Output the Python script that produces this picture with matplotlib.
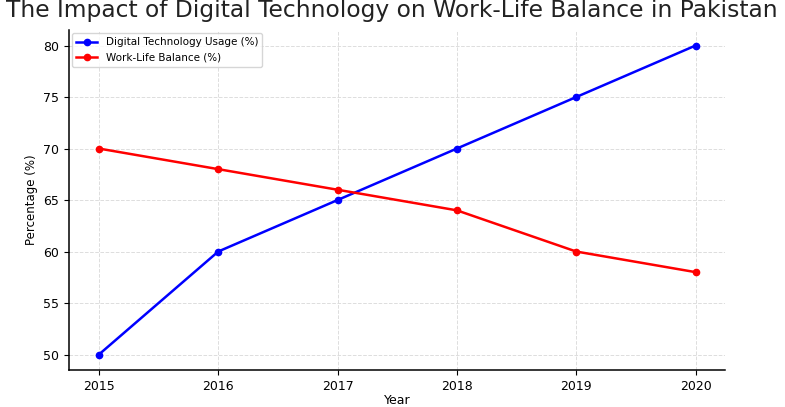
import matplotlib.pyplot as plt

years = [2015, 2016, 2017, 2018, 2019, 2020]
tech_usage = [50, 60, 65, 70, 75, 80]
work_life = [70, 68, 66, 64, 60, 58]

fig = plt.figure(figsize=(7.85, 4.07), dpi=100)
ax = fig.add_axes([0.088, 0.091, 0.836, 0.835])

ax.plot(years, tech_usage, color='blue', marker='o', markersize=4.5, linewidth=1.8,
        label='Digital Technology Usage (%)')
ax.plot(years, work_life, color='red', marker='o', markersize=4.5, linewidth=1.8,
        label='Work-Life Balance (%)')

ax.set_xticks(years)
ax.tick_params(labelsize=9)
ax.set_xlabel('Year', fontsize=9, labelpad=1)
ax.set_ylabel('Percentage (%)', fontsize=8.5)
ax.grid(True, linestyle='--', color='#dddddd', linewidth=0.7)
ax.spines['top'].set_visible(False)
ax.spines['right'].set_visible(False)
for s in ['left', 'bottom']:
    ax.spines[s].set_linewidth(1.1)
ax.legend(loc='upper left', fontsize=7.5, borderaxespad=0.3)

fig.text(0.008, 0.945, 'The Impact of Digital Technology on Work-Life Balance in Pakistan',
         fontsize=16.8, color='#222222', ha='left', va='bottom')

fig.savefig('out.png', dpi=100)
